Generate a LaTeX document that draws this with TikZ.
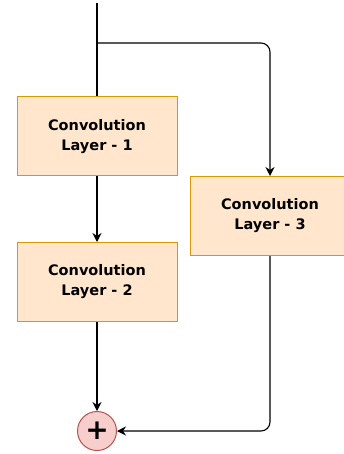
\documentclass[tikz,border=0pt]{standalone}
\usepackage{fontspec}
\setmainfont{DejaVu Sans}
\usetikzlibrary{arrows.meta}
\definecolor{layerfill}{RGB}{255,230,204}
\definecolor{layerline}{RGB}{215,155,0}
\definecolor{sumfill}{RGB}{248,206,204}
\definecolor{sumline}{RGB}{184,84,80}

\begin{document}
\begin{tikzpicture}[x=1pt,y=-1pt]
\tikzstyle{every node}=[font=\bfseries\fontsize{14.5}{20}\selectfont]
\tikzstyle{layer}=[draw=layerline, fill=layerfill, line width=1pt, minimum width=160pt, minimum height=79pt, align=center]
\tikzstyle{sum}=[circle, draw=sumline, fill=sumfill, line width=1pt, minimum size=39pt, inner sep=0pt, font=\bfseries\fontsize{28}{28}\selectfont]
\tikzstyle{flow}=[line width=1.1pt, -{Stealth[length=9pt,width=9pt]}]
\useasboundingbox (0,0) rectangle (343,454);
\coordinate (top) at (97,3);
\coordinate (split) at (97,43);
\node[layer] (c1) at (97,136.5) {Convolution\\Layer - 1};
\node[layer] (c2) at (97,282) {Convolution\\Layer - 2};
\node[layer] (c3) at (270,216) {Convolution\\Layer - 3};
\node[sum] (add) at (97,431) {+};
\draw[line width=1.1pt] (top) -- (c1);
\draw[flow] (c1) -- (c2);
\draw[flow] (c2) -- (add);
\draw[flow, rounded corners=9pt] (split) -| (c3);
\draw[flow, rounded corners=9pt] (c3) |- (add);
\end{tikzpicture}
\end{document}
